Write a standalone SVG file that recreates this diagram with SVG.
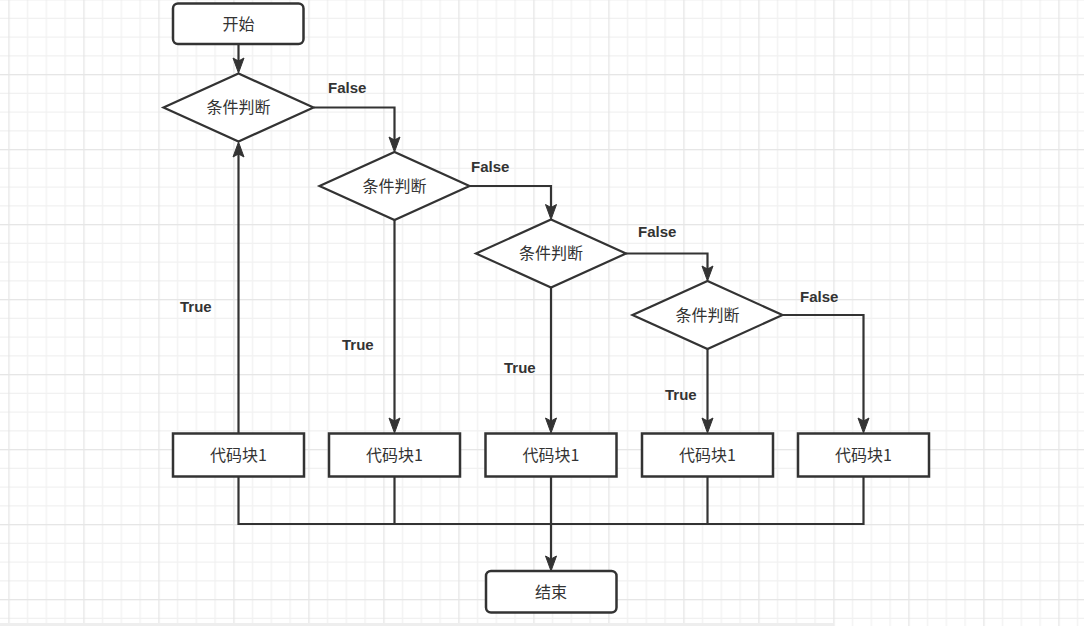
<svg xmlns="http://www.w3.org/2000/svg" width="1084" height="626" viewBox="0 0 1084 626">
<style>
.box{fill:#fff;stroke:#333;stroke-width:2.5}
.dia{fill:#fff;stroke:#333;stroke-width:2.2}
.cn{font-family:"Noto Sans CJK SC","Noto Sans CJK JP",sans-serif;font-size:16px;fill:#333;text-anchor:middle}
.lbl{font-family:"Liberation Sans","DejaVu Sans",sans-serif;font-size:15px;font-weight:bold;fill:#333}
.ln{fill:none;stroke:#333;stroke-width:2.2}
</style>
<defs>
<pattern id="grid" patternUnits="userSpaceOnUse" x="8.3" y="-1" width="75" height="75">
<rect width="75" height="75" fill="#fff"/>
<rect x="18.75" y="0" width="1.2" height="75" fill="#f1f1f1"/>
<rect x="37.5" y="0" width="1.2" height="75" fill="#f1f1f1"/>
<rect x="56.25" y="0" width="1.2" height="75" fill="#f1f1f1"/>
<rect x="0" y="18.75" width="75" height="1.2" fill="#f1f1f1"/>
<rect x="0" y="37.5" width="75" height="1.2" fill="#f1f1f1"/>
<rect x="0" y="56.25" width="75" height="1.2" fill="#f1f1f1"/>
<rect x="0" y="0" width="1.3" height="75" fill="#e6e6e6"/>
<rect x="0" y="0" width="75" height="1.3" fill="#e6e6e6"/>
</pattern>
<marker id="arr" markerUnits="userSpaceOnUse" markerWidth="20" markerHeight="14" refX="6" refY="5.5" orient="auto" overflow="visible">
<path d="M0,0 L15,5.5 L0,11 L3,5.5 Z" fill="#333" stroke="#333" stroke-width="1"/>
</marker>
</defs>
<rect width="1084" height="626" fill="url(#grid)"/>
<rect x="0" y="623" width="833" height="3" fill="#eeeeee"/>

<g id="connectors">
<path class="ln" d="M238.5,44 V64" marker-end="url(#arr)"/>
<path class="ln" d="M313.5,107.5 H394.5 V143" marker-end="url(#arr)"/>
<path class="ln" d="M469.5,186 H551 V210.5" marker-end="url(#arr)"/>
<path class="ln" d="M626,253.5 H707.5 V272" marker-end="url(#arr)"/>
<path class="ln" d="M782.5,315 H863.5 V424" marker-end="url(#arr)"/>
<path class="ln" d="M238.5,433 V151" marker-end="url(#arr)"/>
<path class="ln" d="M394.5,220 V424" marker-end="url(#arr)"/>
<path class="ln" d="M551,287.5 V424" marker-end="url(#arr)"/>
<path class="ln" d="M707.5,349 V424" marker-end="url(#arr)"/>
<path class="ln" d="M238.5,476.5 V524 H863.5 V476.5"/>
<path class="ln" d="M394.5,476.5 V524"/>
<path class="ln" d="M707.5,476.5 V524"/>
<path class="ln" d="M551,476.5 V562" marker-end="url(#arr)"/>
</g>

<g id="labels">
<text class="lbl" x="328" y="93">False</text>
<text class="lbl" x="471" y="172">False</text>
<text class="lbl" x="638" y="237">False</text>
<text class="lbl" x="800" y="302">False</text>
<text class="lbl" x="180" y="312">True</text>
<text class="lbl" x="342" y="350">True</text>
<text class="lbl" x="504" y="373">True</text>
<text class="lbl" x="665" y="400">True</text>
</g>

<g id="start">
<rect class="box" x="173" y="3.5" width="130.5" height="40.5" rx="5"/>
<text class="cn" x="238.5" y="29.5">开始</text>
</g>
<g id="cond1">
<polygon class="dia" points="163.5,107.5 238.5,73.5 313.5,107.5 238.5,141.5"/>
<text class="cn" x="238.5" y="113">条件判断</text>
</g>
<g id="cond2">
<polygon class="dia" points="319.5,186 394.5,152 469.5,186 394.5,220"/>
<text class="cn" x="394.5" y="191.5">条件判断</text>
</g>
<g id="cond3">
<polygon class="dia" points="476,253.5 551,219.5 626,253.5 551,287.5"/>
<text class="cn" x="551" y="259">条件判断</text>
</g>
<g id="cond4">
<polygon class="dia" points="632.5,315 707.5,281 782.5,315 707.5,349"/>
<text class="cn" x="707.5" y="320.5">条件判断</text>
</g>
<g id="code1">
<rect class="box" x="173" y="433.5" width="131" height="43"/>
<text class="cn" x="238.5" y="460.5">代码块1</text>
</g>
<g id="code2">
<rect class="box" x="329" y="433.5" width="131" height="43"/>
<text class="cn" x="394.5" y="460.5">代码块1</text>
</g>
<g id="code3">
<rect class="box" x="485.5" y="433.5" width="131" height="43"/>
<text class="cn" x="551" y="460.5">代码块1</text>
</g>
<g id="code4">
<rect class="box" x="642" y="433.5" width="131" height="43"/>
<text class="cn" x="707.5" y="460.5">代码块1</text>
</g>
<g id="code5">
<rect class="box" x="798" y="433.5" width="131" height="43"/>
<text class="cn" x="863.5" y="460.5">代码块1</text>
</g>
<g id="end">
<rect class="box" x="486" y="571" width="130.5" height="41.5" rx="5"/>
<text class="cn" x="551" y="597.5">结束</text>
</g>
</svg>
